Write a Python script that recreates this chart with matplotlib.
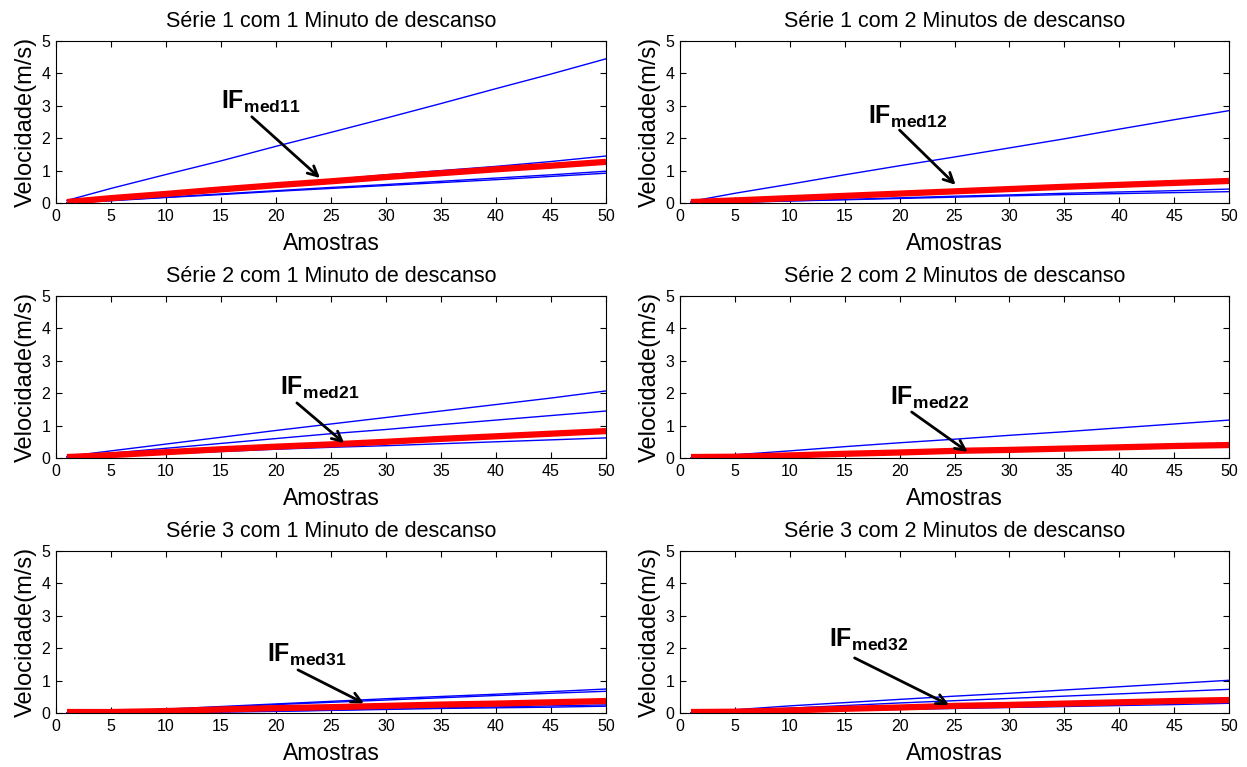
import matplotlib
matplotlib.use("Agg")
import matplotlib.pyplot as plt

plt.rcParams['font.family'] = ['Liberation Sans', 'DejaVu Sans']
plt.rcParams['mathtext.fontset'] = 'custom'
plt.rcParams['mathtext.rm'] = 'Liberation Sans'
plt.rcParams['mathtext.bf'] = 'Liberation Sans:bold'

# ---------------- data ----------------
amostras = [1, 5, 10, 15, 20, 25, 30, 35, 40, 45, 50]

titles = ["Série 1 com 1 Minuto de descanso", "Série 1 com 2 Minutos de descanso",
          "Série 2 com 1 Minuto de descanso", "Série 2 com 2 Minutos de descanso",
          "Série 3 com 1 Minuto de descanso", "Série 3 com 2 Minutos de descanso"]
labels = ["med11", "med12", "med21", "med22", "med31", "med32"]

# blue (individual) curves per panel
blue_11 = [[0.08, 0.45, 0.88, 1.30, 1.75, 2.18, 2.62, 3.07, 3.53, 3.98, 4.45],
           [0.02, 0.12, 0.27, 0.42, 0.57, 0.72, 0.87, 1.00, 1.13, 1.28, 1.45],
           [0.00, 0.08, 0.18, 0.28, 0.38, 0.48, 0.57, 0.67, 0.77, 0.87, 0.98],
           [0.00, 0.07, 0.17, 0.26, 0.36, 0.45, 0.54, 0.63, 0.72, 0.82, 0.92]]
blue_12 = [[0.05, 0.30, 0.58, 0.87, 1.15, 1.42, 1.70, 1.98, 2.28, 2.57, 2.85],
           [0.00, 0.03, 0.07, 0.11, 0.16, 0.21, 0.25, 0.30, 0.34, 0.38, 0.43],
           [0.00, 0.02, 0.06, 0.10, 0.14, 0.18, 0.22, 0.26, 0.29, 0.32, 0.35]]
blue_21 = [[0.05, 0.22, 0.43, 0.64, 0.85, 1.05, 1.25, 1.45, 1.65, 1.85, 2.07],
           [0.03, 0.15, 0.30, 0.45, 0.60, 0.75, 0.88, 1.03, 1.17, 1.31, 1.45],
           [0.00, 0.06, 0.13, 0.20, 0.27, 0.33, 0.38, 0.44, 0.50, 0.56, 0.62]]
blue_22 = [[0.00, 0.10, 0.22, 0.35, 0.47, 0.58, 0.70, 0.81, 0.93, 1.05, 1.17],
           [0.00, 0.02, 0.05, 0.09, 0.13, 0.17, 0.21, 0.25, 0.29, 0.33, 0.37]]
blue_31 = [[0.00, 0.03, 0.12, 0.20, 0.28, 0.36, 0.44, 0.51, 0.58, 0.66, 0.74],
           [0.00, 0.02, 0.10, 0.18, 0.26, 0.33, 0.40, 0.47, 0.54, 0.61, 0.67],
           [0.00, 0.00, 0.02, 0.04, 0.06, 0.09, 0.13, 0.16, 0.19, 0.22, 0.25],
           [0.00, 0.00, 0.01, 0.03, 0.05, 0.08, 0.11, 0.14, 0.16, 0.18, 0.21]]
blue_32 = [[0.00, 0.10, 0.22, 0.32, 0.42, 0.52, 0.61, 0.71, 0.81, 0.91, 1.01],
           [0.00, 0.07, 0.15, 0.23, 0.31, 0.38, 0.45, 0.52, 0.59, 0.66, 0.73],
           [0.00, 0.02, 0.05, 0.08, 0.11, 0.14, 0.17, 0.20, 0.23, 0.26, 0.30]]

# red (mean, IF_med) curves per panel
red_11 = [0.03, 0.15, 0.28, 0.42, 0.55, 0.67, 0.80, 0.92, 1.04, 1.15, 1.27]
red_12 = [0.03, 0.08, 0.15, 0.22, 0.29, 0.36, 0.43, 0.50, 0.56, 0.62, 0.68]
red_21 = [0.03, 0.09, 0.18, 0.27, 0.35, 0.42, 0.50, 0.59, 0.67, 0.75, 0.83]
red_22 = [0.03, 0.04, 0.08, 0.13, 0.17, 0.22, 0.25, 0.29, 0.33, 0.37, 0.40]
red_31 = [0.03, 0.03, 0.06, 0.11, 0.15, 0.18, 0.22, 0.26, 0.29, 0.33, 0.37]
red_32 = [0.03, 0.04, 0.08, 0.13, 0.17, 0.22, 0.25, 0.29, 0.33, 0.37, 0.40]

blues = [blue_11, blue_12, blue_21, blue_22, blue_31, blue_32]
reds = [red_11, red_12, red_21, red_22, red_31, red_32]

xticks = [0, 5, 10, 15, 20, 25, 30, 35, 40, 45, 50]
yticks = [0, 1, 2, 3, 4, 5]

# ---------------- layout ----------------
W, H = 1247, 767
fig = plt.figure(figsize=(W / 100, H / 100), dpi=100)

col_px = [(56, 606), (680, 1229)]
row_px = [(41, 203), (296, 458), (551, 713)]

# annotation (text position, arrow start, arrow tip) in data coords
ann = [((15.0, 2.9), (17.8, 2.66), (24.0, 0.77)),
       ((17.1, 2.45), (20.0, 2.25), (25.1, 0.56)),
       ((20.4, 1.94), (21.9, 1.70), (26.2, 0.46)),
       ((19.1, 1.64), (21.1, 1.42), (26.2, 0.19)),
       ((19.2, 1.57), (22.0, 1.33), (28.0, 0.30)),
       ((13.6, 2.04), (15.9, 1.70), (24.5, 0.25))]

for i in range(6):
    r, c = divmod(i, 2)
    x0, x1 = col_px[c]
    y0, y1 = row_px[r]
    ax = fig.add_axes([x0 / W, 1 - y1 / H, (x1 - x0) / W, (y1 - y0) / H])
    for b in blues[i]:
        ax.plot(amostras, b, color=(0, 0, 1), lw=1.0)
    ax.plot(amostras, reds[i], color=(1, 0, 0), lw=4.5, solid_capstyle='butt')
    ax.set_xlim(0, 50)
    ax.set_ylim(0, 5)
    ax.set_xticks(xticks)
    ax.set_yticks(yticks)
    ax.tick_params(direction='in', top=True, right=True, labelsize=11.5, length=4,
                   width=0.8, pad=4)
    for s in ax.spines.values():
        s.set_linewidth(0.8)
    ax.set_title(titles[i], fontsize=15.5, pad=10)
    ax.set_xlabel("Amostras", fontsize=16.5, labelpad=6)
    ax.set_ylabel("Velocidade(m/s)", fontsize=17, labelpad=3)

    (tx, ty), (sx, sy), (ex, ey) = ann[i]
    ax.text(tx, ty, r"$\mathbf{IF}_{\mathbf{" + labels[i] + "}}$", fontsize=18,
            ha='left', va='baseline', color='black')
    ax.annotate("", xy=(ex, ey), xytext=(sx, sy),
                arrowprops=dict(arrowstyle='->,head_length=0.7,head_width=0.35',
                                color='black', lw=2.0, shrinkA=0, shrinkB=0))

fig.savefig("out.png", dpi=100)
